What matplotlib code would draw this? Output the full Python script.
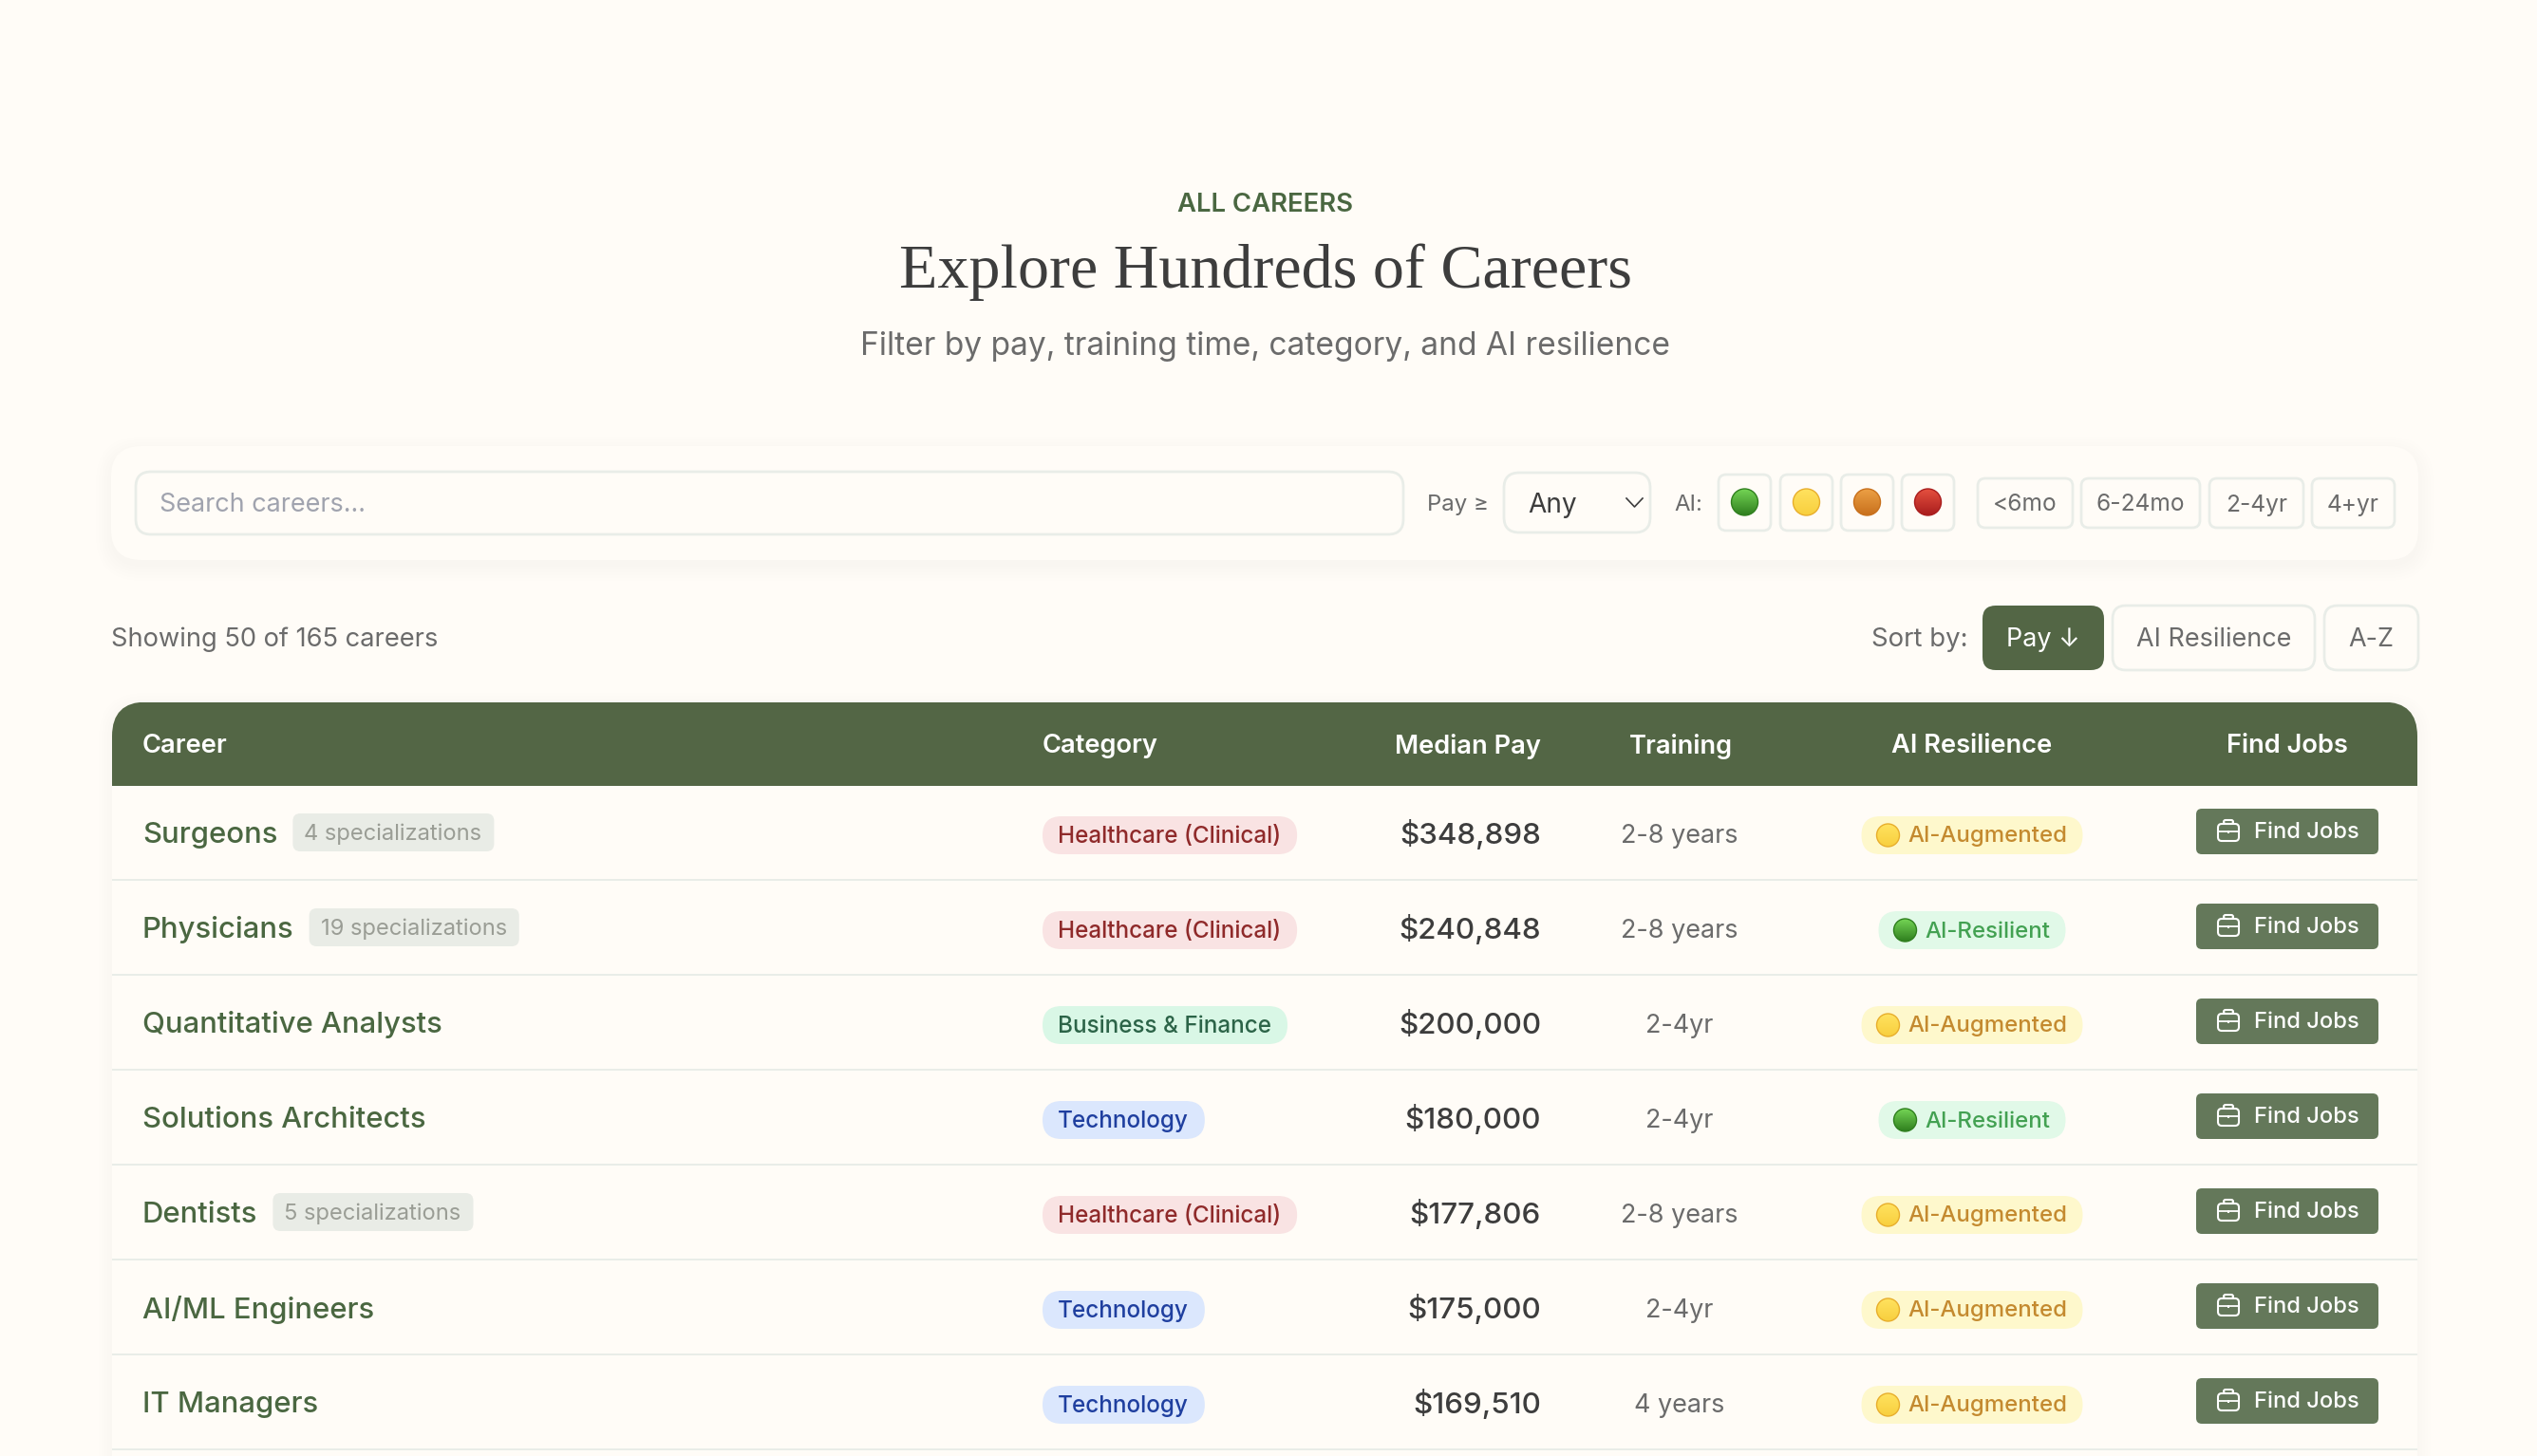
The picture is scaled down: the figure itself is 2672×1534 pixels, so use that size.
import numpy as np
import matplotlib
matplotlib.use("Agg")
import matplotlib.pyplot as plt
from matplotlib.patches import FancyBboxPatch, Rectangle, Ellipse
from matplotlib.colors import LinearSegmentedColormap

# ---- data ----
careers = ["Surgeons", "Physicians", "Quantitative Analysts", "Solutions Architects",
           "Dentists", "AI/ML Engineers", "IT Managers"]
specializations = [4, 19, 0, 0, 5, 0, 0]
categories = ["Healthcare (Clinical)", "Healthcare (Clinical)", "Business & Finance", "Technology",
              "Healthcare (Clinical)", "Technology", "Technology"]
median_pay = [348898, 240848, 200000, 180000, 177806, 175000, 169510]
training = ["2-8 years", "2-8 years", "2-4yr", "2-4yr", "2-8 years", "2-4yr", "4 years"]
ai_level = ["AI-Augmented", "AI-Resilient", "AI-Augmented", "AI-Resilient",
            "AI-Augmented", "AI-Augmented", "AI-Augmented"]
columns = ["Career", "Category", "Median Pay", "Training", "AI Resilience", "Find Jobs"]
training_filters = ["<6mo", "6-24mo", "2-4yr", "4+yr"]
sort_options = ["Pay ↓", "AI Resilience", "A-Z"]

# ---- style ----
BG = "#fffcf7"
GREEN = "#536645"
BTN = "#64785a"
NAME = "#4a6741"
LINE = "#e9ede8"
DARK = "#3d3d3d"
GREY = "#6b6b6b"
CAT = {"Healthcare (Clinical)": ("#f9e3e3", "#8f2a2a"),
       "Business & Finance": ("#d9f7e6", "#2c6448"),
       "Technology": ("#dbe7fd", "#1f3f9f")}
AI = {"AI-Augmented": ("#fef8cc", "#c48a2f", "yellow"),
      "AI-Resilient": ("#e1f9e8", "#43a152", "green")}
DOT = {"green": ("#74d455", "#2f7f1e", "#2f7f1e"),
       "yellow": ("#ffe25f", "#f8cf3e", "#e8ae2c"),
       "orange": ("#eca045", "#c8701c", "#c8701c"),
       "red": ("#e5503f", "#a91d1d", "#a91d1d")}
plt.rcParams["font.family"] = ["Inter", "DejaVu Sans"]

W, H = 2672, 1534
fig = plt.figure(figsize=(W / 100, H / 100), dpi=100, facecolor=BG)
ax = fig.add_axes([0, 0, 1, 1])
ax.set_axis_off()
renderer = fig.canvas.get_renderer()


def px(s):
    return s * 0.72


def box(x0, y0, x1, y1, r, fc, ec="none", lw=0, z=2, alpha=None):
    p = FancyBboxPatch((x0, y0), x1 - x0, y1 - y0, boxstyle=f"round,pad=0,rounding_size={r}",
                       fc=fc, ec=ec, lw=lw, zorder=z, alpha=alpha)
    ax.add_patch(p)
    return p


def txt(x, y, s, size, color, ha="left", weight="normal", family=None, z=5):
    kw = {"family": family} if family else {}
    return ax.text(x, y, s, fontsize=px(size), color=color, ha=ha, va="center",
                   fontweight=weight, zorder=z, **kw)


def width(t):
    return t.get_window_extent(renderer).width


def shadow(x0, y0, x1, y1, r, spread=16, dy=6):
    for k in range(spread, 0, -3):
        box(x0 - k, y0 - k + dy, x1 + k, y1 + k + dy, r + k, "#6b7a60", z=1, alpha=0.0035)


def dot(cx, cy, kind, d=26, z=6):
    top, bottom, edge = DOT[kind]
    cm = LinearSegmentedColormap.from_list(kind, [top, bottom])
    grad = np.linspace(0, 1, 64).reshape(-1, 1)
    im = ax.imshow(grad, cmap=cm, extent=(cx - d / 2, cx + d / 2, cy + d / 2, cy - d / 2),
                   aspect="auto", zorder=z)
    e = Ellipse((cx, cy), d, d, fc="none", ec=edge, lw=1.0, zorder=z + 1)
    ax.add_patch(e)
    im.set_clip_path(e)


def briefcase(cx, cy):
    box(cx - 11, cy - 7, cx + 11, cy + 11, 4, "none", "white", 1.5, z=6)
    box(cx - 5, cy - 11, cx + 5, cy - 7, 2, "none", "white", 1.5, z=6)
    ax.plot([cx - 11, cx + 11], [cy + 1, cy + 1], color="white", lw=1.3, zorder=6)
    ax.add_patch(Rectangle((cx - 1.2, cy - 0.5), 2.4, 3, fc="white", ec="none", zorder=7))


# ---- heading ----
txt(1333, 216, "ALL CAREERS", 27.5, NAME, ha="center", weight="semibold")
txt(1333, 287, "Explore Hundreds of Careers", 66, DARK, ha="center", family="Liberation Serif")
txt(1333, 365, "Filter by pay, training time, category, and AI resilience", 33.5, GREY, ha="center")

# ---- filter card ----
shadow(117, 470, 2547, 590, 32)
box(117, 470, 2547, 590, 32, BG, z=2)
box(143, 497, 1478, 563, 16, BG, LINE, 2, z=3)
txt(168, 532, "Search careers...", 27, "#a0a3ae")
txt(1503, 532, "Pay ≥", 24, GREY)
box(1584, 498, 1738, 561, 16, BG, LINE, 2, z=3)
txt(1609, 532, "Any", 28, DARK)
ax.plot([1713, 1721.5, 1730], [525, 534, 525], color=DARK, lw=1.2, zorder=5)
txt(1763, 532, "AI:", 24, GREY)
for x0, kind in zip([1810, 1875, 1939, 2003], ["green", "yellow", "orange", "red"]):
    box(x0, 500, x0 + 55, 559, 8, BG, LINE, 2, z=3)
    dot(x0 + 27.5, 529, kind, d=28)
for (x0, x1), s in zip([(2083, 2183), (2192, 2317), (2327, 2426), (2435, 2522)], training_filters):
    box(x0, 504, x1, 556, 8, BG, LINE, 2, z=3)
    txt((x0 + x1) / 2, 532, s, 24.5, GREY, ha="center")

# ---- sort row ----
txt(117, 674, "Showing 50 of 165 careers", 27.3, GREY)
txt(1971, 674, "Sort by:", 27.5, GREY)
for i, ((x0, x1), s) in enumerate(zip([(2088, 2216), (2225, 2438), (2448, 2547)], sort_options)):
    active = i == 0
    box(x0, 638, x1, 706, 14, GREEN if active else BG, "none" if active else LINE, 0 if active else 2, z=3)
    txt((x0 + x1) / 2, 674, s, 27, "white" if active else GREY, ha="center",
        family=["Inter", "DejaVu Sans"])

# ---- table ----
TOP, HEAD_B, ROW = 739.5, 828, 100
shadow(118, 740, 2546, 1700, 34, spread=14, dy=4)
ax.add_patch(Rectangle((118, HEAD_B), 2428, H - HEAD_B, fc=BG, ec="none", zorder=2))
head = box(118, TOP, 2546, TOP + 160, 36, GREEN, z=3)
head.set_clip_path(Rectangle((118, TOP), 2428, HEAD_B - TOP, transform=ax.transData))
col_x = [150, 1098, 1623, 1770, 2077, 2409]
col_ha = ["left", "left", "right", "center", "center", "center"]
for x, ha, s in zip(col_x, col_ha, columns):
    txt(x, 786, s, 27.3, "white", ha=ha, weight="semibold")

for i, name in enumerate(careers):
    top = HEAD_B + i * ROW
    mid = top + 50
    t = txt(150, mid + 2, name, 31, NAME, weight="medium")
    if specializations[i]:
        x0 = 150 + width(t) + 16
        s = txt(x0 + 12, mid + 1, f"{specializations[i]} specializations", 23.7, "#9a9d95")
        box(x0, mid - 21, x0 + width(s) + 25, mid + 19, 8, "#e9ece6", z=3)
    fc, tc = CAT[categories[i]]
    c = txt(1114, mid + 3.5, categories[i], 24.3, tc, weight="medium")
    box(1098, mid - 18, 1114 + width(c) + 17, mid + 22, 20, fc, z=3)
    txt(1623, mid + 1, f"${median_pay[i]:,}", 31.3, DARK, ha="right", weight="medium")
    txt(1769, mid + 3, training[i], 27, GREY, ha="center")
    fc, tc, kind = AI[ai_level[i]]
    probe = txt(0, mid, ai_level[i], 24, tc, weight="medium")
    tw = width(probe)
    probe.remove()
    total = 16 + 24 + 9 + tw + 16
    x0 = 2077 - total / 2
    box(x0, mid - 18, x0 + total, mid + 22, 20, fc, z=3)
    dot(x0 + 16 + 12, mid + 2, kind, d=24)
    txt(x0 + 49, mid + 3.5, ai_level[i], 24, tc, weight="medium")
    box(2313, mid - 26, 2505, mid + 22, 6, BTN, z=3)
    briefcase(2347, mid - 3)
    txt(2374, mid - 1, "Find Jobs", 23.7, "white", weight="medium")
    ax.add_patch(Rectangle((118, top + ROW - 2.5), 2428, 2, fc=LINE, ec="none", zorder=4))

ax.set_xlim(0, W)
ax.set_ylim(H, 0)
fig.savefig("out.png", dpi=100, facecolor=BG)
